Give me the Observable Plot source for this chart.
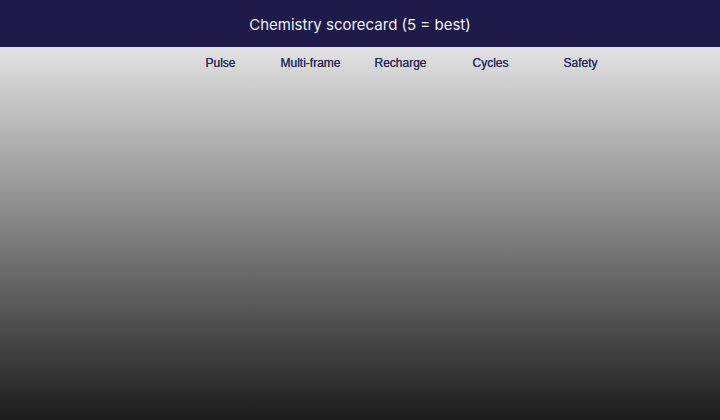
<!DOCTYPE html>
<html>
<head>
<meta charset="utf-8">
<script src="https://cdn.jsdelivr.net/npm/d3@7"></script>
<script src="https://cdn.jsdelivr.net/npm/@observablehq/plot@0.6"></script>
<style>
  html, body { margin: 0; padding: 0; width: 720px; height: 420px; overflow: hidden; }
  #title {
    height: 47px; line-height: 49px; background: #1e1b4b; color: #f2f2f7;
    text-align: center; font-family: Inter, "Noto Sans", sans-serif; font-size: 15px;
  }
  #chart { height: 373px; background: linear-gradient(to bottom, #e2e2e2, #1c1c1c); }
  #chart svg { display: block; background: transparent; }
</style>
</head>
<body>
<div id="title">Chemistry scorecard (5 = best)</div>
<div id="chart"></div>
<script>
const metrics = ["Pulse", "Multi-frame", "Recharge", "Cycles", "Safety"];

const plot = Plot.plot({
  width: 720,
  height: 373,
  marginLeft: 175,
  marginRight: 95,
  marginTop: 27,
  marginBottom: 0,
  style: { background: "transparent", fontFamily: "'Liberation Sans', Arial, sans-serif", fontSize: "12px", color: "#2b2a5c" },
  x: { type: "band", domain: metrics, axis: "top", tickSize: 0, tickPadding: 8, label: null, padding: 0 },
  marks: [
    Plot.axisX(metrics, { anchor: "top", tickSize: 0, tickPadding: 8, fill: "#2b2a5c", fontSize: 12 })
  ]
});
document.getElementById("chart").appendChild(plot);
</script>
</body>
</html>
